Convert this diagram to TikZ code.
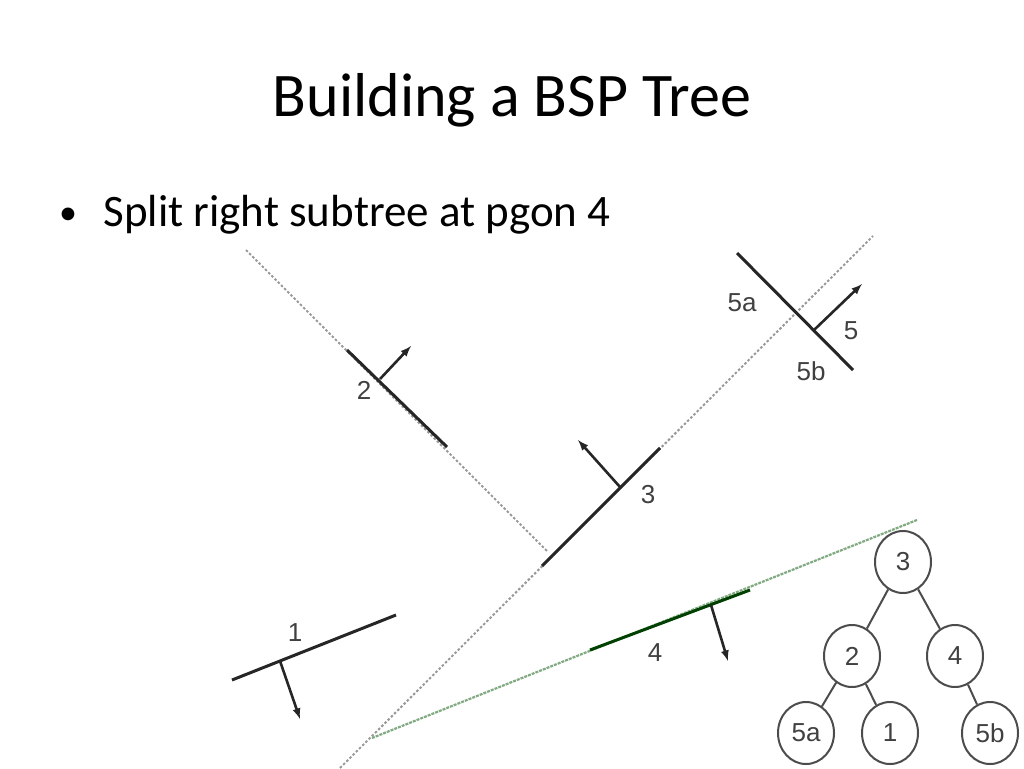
\documentclass[tikz,border=0pt]{standalone}
\usepackage{fontspec}
\setmainfont{Carlito}
\newfontfamily\arialf{Liberation Sans}
\usetikzlibrary{shapes.geometric}
\definecolor{gline}{RGB}{130,170,130}
\begin{document}
\begin{tikzpicture}[x=1pt,y=-1pt,
  seg/.style={line width=3pt,black!85},
  dotl/.style={gray!80,line width=2pt,dash pattern=on 2.5pt off 2pt},
  gdot/.style={gline,line width=2.2pt,dash pattern=on 3pt off 1pt},
  arr/.style={line width=2.6pt,black!85,-latex},
  lab/.style={font=\arialf\fontsize{26}{26}\selectfont,text=black!75},
  tn/.style={ellipse,draw=black!70,line width=2pt,minimum width=56pt,minimum height=62pt,inner sep=0pt,font=\arialf\fontsize{26}{26}\selectfont,text=black!75},
  te/.style={black!70,line width=2pt}]
\useasboundingbox (0,0) rectangle (1024,768);
\node[font=\fontsize{62}{62}\selectfont] (title) at (512,100) {Building a BSP Tree};
\node[anchor=base west,font=\fontsize{45}{45}\selectfont] (bul) at (100,226) {Split right subtree at pgon 4};
\node[anchor=base,font=\fontsize{36}{36}\selectfont] (dot) at (68,224) {\textbullet};
% dotted lines
\coordinate (d2a) at (246,250); \coordinate (d2b) at (548,552);
\draw[dotl] (d2a) -- (d2b);
\coordinate (d3a) at (340,768); \coordinate (d3b) at (873,236);
\draw[dotl] (d3a) -- (d3b);
\coordinate (g4a) at (372,738); \coordinate (g4b) at (917,520);
\draw[gdot] (g4a) -- (g4b);
% segment 2
\coordinate (s2a) at (347,350); \coordinate (s2b) at (447,447);
\draw[seg] (s2a) -- (s2b);
\coordinate (a2a) at (380,379); \coordinate (a2b) at (411,346);
\draw[arr] (a2a) -- (a2b);
\node[lab] (l2) at (364,390) {2};
% segment 3
\coordinate (s3a) at (542,566); \coordinate (s3b) at (660,448);
\draw[seg] (s3a) -- (s3b);
\coordinate (a3a) at (620,487); \coordinate (a3b) at (578,440);
\draw[arr] (a3a) -- (a3b);
\node[lab] (l3) at (648,495) {3};
% segment 5
\coordinate (s5a) at (737,253); \coordinate (s5b) at (853,370);
\draw[seg] (s5a) -- (s5b);
\coordinate (a5a) at (814,330); \coordinate (a5b) at (862,284);
\draw[arr] (a5a) -- (a5b);
\node[lab] (l5a) at (742,303) {5a};
\node[lab] (l5) at (851,331) {5};
\node[lab] (l5b) at (811,371) {5b};
% segment 4
\coordinate (s4a) at (590,650); \coordinate (s4b) at (750,590);
\draw[line width=3pt,green!25!black] (s4a) -- (s4b);
\coordinate (a4a) at (711,605); \coordinate (a4b) at (728,661);
\draw[arr] (a4a) -- (a4b);
\node[lab] (l4) at (655,653) {4};
% segment 1
\coordinate (s1a) at (232,680); \coordinate (s1b) at (396,615);
\draw[seg] (s1a) -- (s1b);
\coordinate (a1a) at (280,661); \coordinate (a1b) at (300,719);
\draw[arr] (a1a) -- (a1b);
\node[lab] (l1) at (295,633) {1};
% tree
\node[tn] (t3) at (903,562) {3};
\node[tn] (t2) at (852,656) {2};
\node[tn] (t4) at (955,656) {4};
\node[tn] (t5a) at (806,733) {5a};
\node[tn] (t1) at (890,733) {1};
\node[tn] (t5b) at (990,733) {5b};
\draw[te] (t3) -- (t2); \draw[te] (t3) -- (t4);
\draw[te] (t2) -- (t5a); \draw[te] (t2) -- (t1);
\draw[te] (t4) -- (t5b);
\end{tikzpicture}
\end{document}
